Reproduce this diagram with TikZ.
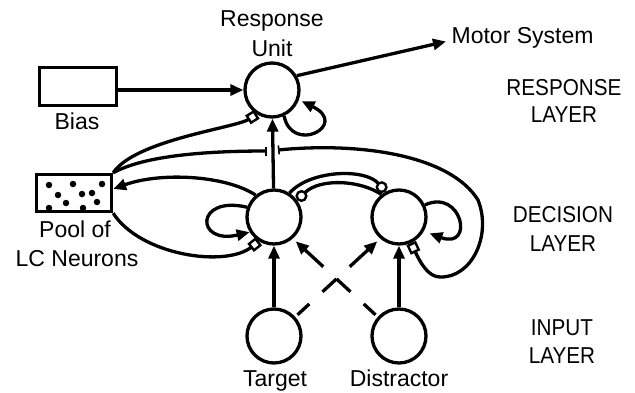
\documentclass[tikz,border=0pt]{standalone}
\usepackage{fontspec}
\setmainfont{Liberation Sans}
\newfontfamily\condfont[FakeStretch=0.9]{Liberation Sans}
\usetikzlibrary{arrows.meta,calc}

\tikzset{
  unit/.style={circle, draw, minimum size=54pt, inner sep=0pt},
  boxnode/.style={draw, rectangle, inner sep=0pt},
  lbl/.style={font=\fontsize{23}{26}\selectfont, anchor=base, inner sep=0pt},
  layerlbl/.style={font=\condfont\fontsize{23}{26}\selectfont, anchor=base, inner sep=0pt},
  arr/.style={-{Triangle[length=13pt,width=11pt]}},
  sqtip/.tip={Square[open,length=10.5pt,width=10.5pt,line width=2.4pt]},
  hopbar/.tip={Bar[width=9pt,line width=1.6pt]},
  gain/.style={-{sqtip}},
  inhib/.style={-{Circle[open,length=12pt,line width=2.4pt]}},
  dsh/.style={dash pattern=on 16pt off 18pt on 19pt off 18pt on 80pt},
  dot/.style={circle, fill, inner sep=0pt, minimum size=6.5pt},
}

\begin{document}
\begin{tikzpicture}[x=1pt, y=-1pt, line width=3.3pt]
  \useasboundingbox (0,0) rectangle (635,392);

  % units
  \node[unit] (R)  at (272,90)  {};
  \node[unit] (D1) at (274,217) {};
  \node[unit] (D2) at (399,217) {};
  \node[unit] (I1) at (274,336) {};
  \node[unit] (I2) at (399,336) {};

  % bias and LC pool
  \node[boxnode, minimum width=77pt, minimum height=38pt] (bias) at (78,86.5) {};
  \node[boxnode, minimum width=75pt, minimum height=37pt] (pool) at (74,193) {};
  \foreach \px/\py [count=\k] in {49/185, 73/184, 102/184, 58/195, 82/194, 92/193,
                                   66/203, 97/202, 49/208, 83/208}
    \node[dot] (lc\k) at (\px,\py) {};

  % labels
  \node[lbl] (resp1) at (272,26.7) {Response};
  \node[lbl] (resp2) at (272,56.7) {Unit};
  \node[lbl, anchor=base west] (motor) at (450,43.3) {Motor System};
  \node[lbl] (biaslbl) at (77,129.3) {Bias};
  \node[lbl] (pool1) at (75,237) {Pool of};
  \node[lbl] (pool2) at (77,266) {LC Neurons};
  \node[lbl] (tgt) at (275,386.7) {Target};
  \node[lbl] (dis) at (399,386.7) {Distractor};
  \node[layerlbl] (rl1) at (564,95)  {RESPONSE};
  \node[layerlbl] (rl2) at (564,122) {LAYER};
  \node[layerlbl] (dl1) at (563,222) {DECISION};
  \node[layerlbl] (dl2) at (563,251) {LAYER};
  \node[layerlbl] (il1) at (562,335) {INPUT};
  \node[layerlbl] (il2) at (562,363) {LAYER};

  % free ends
  \coordinate (motortip) at (446,41.5);
  \coordinate (hopL) at (267,151);
  \coordinate (hopR) at (278,150);

  % feed-forward pathway
  \draw[arr] (bias.east |- R.west) -- (R.west);
  \draw[arr] (R.30) -- (motortip);
  \draw[arr] (D1) -- (R);
  \draw[arr] (I1) -- (D1);
  \draw[arr] (I2) -- (D2);
  \draw[arr, dsh, shorten <=3pt, shorten >=4pt] (I1.42) -- (D2.229);
  \draw[arr, dsh, shorten <=3pt, shorten >=4pt] (I2.138) -- (D1.311);

  % self excitation
  \draw[arr, shorten >=3pt] (R.-65) .. controls (292,155) and (350,125) .. (R.-20);
  \draw[arr] (D1.160) .. controls (195,195) and (195,245) .. (D1.212);
  \draw[arr, shorten >=6pt] (D2.25) .. controls (462,188) and (475,250) .. (D2.-30);

  % mutual inhibition
  \draw[inhib] (D1.57) .. controls (310,170) and (365,168) .. (D2.118);
  \draw[inhib] (D2.128) .. controls (360,180) and (320,178) .. (D1.36);

  % LC projections
  \draw[arr] (D1.130) .. controls (225,175) and (160,172) .. ($(pool.east)+(0,-4)$);
  \draw[gain] (pool.north east) .. controls (135,140) and (235,128) .. (R.238);
  \draw[gain] (pool.south east) .. controls (140,255) and (225,268) .. (D1.238);
  \draw[-{hopbar}] (pool.north east) .. controls (145,155) and (210,151) .. (hopL);
  \draw[{hopbar}-{sqtip}]
    (hopR) .. controls (360,142) and (450,155) .. (478,200)
           .. controls (492,235) and (472,278) .. (440,277)
           .. controls (428,277) and (420,262) .. (D2.295);
\end{tikzpicture}
\end{document}
